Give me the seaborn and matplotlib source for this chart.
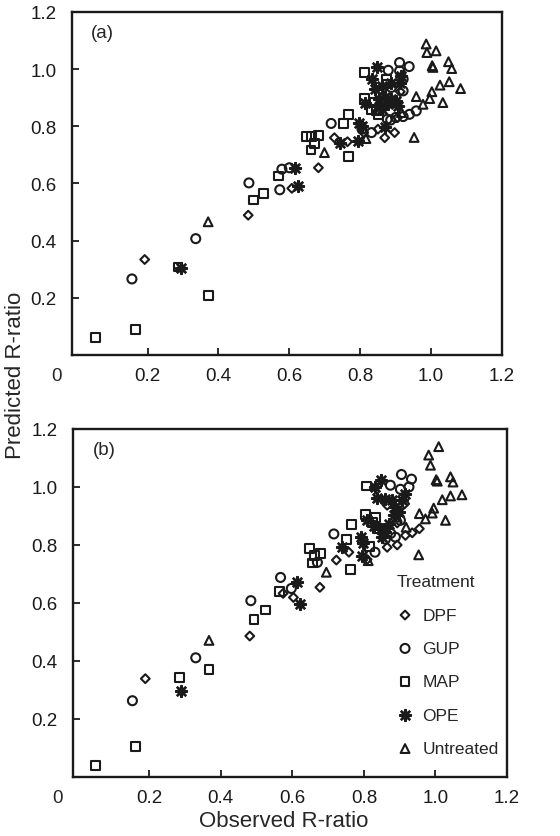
import numpy as np
import pandas as pd
import matplotlib
matplotlib.use('Agg')
import matplotlib.pyplot as plt
import seaborn as sns

# Treatments and axis ticks
treatments = ['DPF', 'GUP', 'MAP', 'OPE', 'Untreated']
tick_values = [0.2, 0.4, 0.6, 0.8, 1.0, 1.2]
tick_labels = ['0.2', '0.4', '0.6', '0.8', '1.0', '1.2']

# ── Panel (a): observed vs predicted R-ratio
a_dpf_obs  = [0.192, 0.484, 0.607, 0.682, 0.727, 0.764, 0.810, 0.869, 0.897, 0.913, 0.850, 0.905]
a_dpf_pred = [0.334, 0.489, 0.583, 0.655, 0.760, 0.746, 0.778, 0.760, 0.778, 0.921, 0.790, 0.830]

a_gup_obs  = [0.156, 0.336, 0.486, 0.573, 0.579, 0.600, 0.718, 0.805, 0.832, 0.876, 0.886, 0.900,
              0.921, 0.939, 0.958, 0.879, 0.911, 0.938, 0.911, 0.921, 0.888, 0.921, 0.860]
a_gup_pred = [0.266, 0.407, 0.602, 0.578, 0.650, 0.655, 0.810, 0.790, 0.778, 0.825, 0.822, 0.831,
              0.834, 0.842, 0.854, 0.996, 1.023, 1.009, 0.994, 0.965, 0.936, 0.924, 0.930]

a_map_obs  = [0.053, 0.165, 0.286, 0.371, 0.500, 0.528, 0.570, 0.649, 0.663, 0.682, 0.672, 0.661,
              0.752, 0.768, 0.766, 0.811, 0.874, 0.811, 0.839, 0.832, 0.851, 0.845, 0.874]
a_map_pred = [0.060, 0.089, 0.308, 0.208, 0.542, 0.565, 0.626, 0.764, 0.764, 0.769, 0.741, 0.717,
              0.810, 0.840, 0.694, 0.988, 0.965, 0.897, 0.883, 0.860, 0.842, 0.855, 0.948]

a_ope_obs  = [0.294, 0.617, 0.624, 0.743, 0.794, 0.796, 0.805, 0.869, 0.846, 0.834, 0.841, 0.860,
              0.888, 0.916, 0.911, 0.813, 0.853, 0.869, 0.888, 0.902, 0.879, 0.856, 0.907, 0.860]
a_ope_pred = [0.305, 0.655, 0.591, 0.743, 0.749, 0.813, 0.800, 0.796, 1.006, 0.965, 0.930, 0.942,
              0.953, 0.977, 0.953, 0.883, 0.895, 0.901, 0.895, 0.889, 0.877, 0.866, 0.872, 0.860]

a_unt_obs  = [0.371, 0.699, 0.816, 0.916, 0.952, 0.986, 0.988, 1.014, 1.005, 1.003, 1.049, 1.058,
              1.083, 1.051, 1.025, 1.002, 0.996, 0.977, 0.958, 1.033]
a_unt_pred = [0.466, 0.708, 0.757, 0.848, 0.761, 1.088, 1.058, 1.064, 1.006, 1.012, 1.026, 1.002,
              0.932, 0.956, 0.944, 0.921, 0.897, 0.877, 0.904, 0.883]

# ── Panel (b)
b_dpf_obs  = [0.189, 0.481, 0.574, 0.603, 0.677, 0.723, 0.758, 0.809, 0.865, 0.893, 0.916, 0.935,
              0.955, 0.865, 0.914, 0.893]
b_dpf_pred = [0.339, 0.486, 0.633, 0.619, 0.654, 0.748, 0.775, 0.750, 0.792, 0.800, 0.833, 0.842,
              0.856, 0.937, 0.942, 0.876]

b_gup_obs  = [0.153, 0.330, 0.484, 0.567, 0.597, 0.670, 0.716, 0.831, 0.905, 0.933, 0.902, 0.926,
              0.874, 0.888, 0.902, 0.860, 0.875]
b_gup_pred = [0.263, 0.411, 0.608, 0.688, 0.650, 0.740, 0.838, 0.775, 1.043, 1.027, 0.992, 1.000,
              1.006, 0.827, 0.885, 0.820, 0.840]

b_map_obs  = [0.049, 0.161, 0.284, 0.367, 0.493, 0.524, 0.563, 0.648, 0.663, 0.679, 0.656, 0.763,
              0.751, 0.765, 0.807, 0.805, 0.833, 0.837, 0.816, 0.823]
b_map_pred = [0.040, 0.105, 0.344, 0.371, 0.544, 0.576, 0.640, 0.789, 0.763, 0.771, 0.738, 0.715,
              0.819, 0.870, 1.003, 0.904, 0.896, 0.856, 0.796, 0.878]

b_ope_obs  = [0.288, 0.612, 0.622, 0.740, 0.791, 0.798, 0.795, 0.831, 0.849, 0.837, 0.860, 0.879,
              0.888, 0.898, 0.884, 0.907, 0.916, 0.809, 0.828, 0.847, 0.860, 0.851, 0.870]
b_ope_pred = [0.296, 0.671, 0.598, 0.792, 0.827, 0.807, 0.763, 1.000, 1.023, 0.962, 0.960, 0.954,
              0.931, 0.913, 0.902, 0.954, 0.977, 0.885, 0.867, 0.856, 0.844, 0.827, 0.873]

b_unt_obs  = [0.367, 0.695, 0.812, 0.953, 1.009, 0.981, 0.986, 1.002, 1.005, 1.042, 1.049, 1.074,
              1.042, 1.019, 0.995, 0.991, 0.972, 0.955, 1.028, 0.918, 0.893]
b_unt_pred = [0.471, 0.706, 0.746, 0.766, 1.139, 1.110, 1.075, 1.025, 1.020, 1.035, 1.017, 0.973,
              0.969, 0.956, 0.927, 0.910, 0.890, 0.908, 0.885, 0.861, 0.896]


def build(groups):
    frames = []
    for name, (obs, pred) in zip(treatments, groups):
        frames.append(pd.DataFrame({'Observed': obs, 'Predicted': pred, 'Treatment': name}))
    return pd.concat(frames, ignore_index=True)


df_a = build([(a_dpf_obs, a_dpf_pred), (a_gup_obs, a_gup_pred), (a_map_obs, a_map_pred),
              (a_ope_obs, a_ope_pred), (a_unt_obs, a_unt_pred)])
df_b = build([(b_dpf_obs, b_dpf_pred), (b_gup_obs, b_gup_pred), (b_map_obs, b_map_pred),
              (b_ope_obs, b_ope_pred), (b_unt_obs, b_unt_pred)])

# Marker styles per treatment
styles = {
    'DPF':       dict(marker='D', s=20, facecolor='none', edgecolor='k', linewidth=1.5),
    'GUP':       dict(marker='o', s=42, facecolor='none', edgecolor='k', linewidth=1.5),
    'MAP':       dict(marker='s', s=40, facecolor='none', edgecolor='k', linewidth=1.5),
    'OPE':       dict(marker=(8, 2, 0), s=60, color='k', linewidth=1.8),
    'Untreated': dict(marker='^', s=40, facecolor='none', edgecolor='k', linewidth=1.5),
}

sns.set_theme(style='ticks')
plt.rcParams['font.family'] = ['Liberation Sans', 'DejaVu Sans']

fig = plt.figure(figsize=(5.6, 8.37), dpi=100)
ax1 = fig.add_axes([0.1286, 0.5747, 0.7679, 0.4098])
ax2 = fig.add_axes([0.1304, 0.0705, 0.7750, 0.4158])

for ax, df, tag in [(ax1, df_a, '(a)'), (ax2, df_b, '(b)')]:
    for t in treatments:
        sns.scatterplot(data=df[df['Treatment'] == t], x='Observed', y='Predicted',
                        ax=ax, label=t, legend=False, zorder=3, **styles[t])
    ax.set_xlim(-0.013, 1.193)
    ax.set_ylim(0, 1.2)
    ax.set_xticks(tick_values)
    ax.set_xticklabels(tick_labels)
    ax.set_yticks(tick_values)
    ax.set_yticklabels(tick_labels)
    ax.set(xlabel='', ylabel='')
    ax.tick_params(axis='both', direction='in', length=5, width=1.3, labelsize=13.5, colors='k')
    ax.tick_params(axis='x', pad=9)
    ax.tick_params(axis='y', pad=11)
    for sp in ax.spines.values():
        sp.set_linewidth(1.7)
        sp.set_color('k')
    ax.text(0.045, 0.94, tag, transform=ax.transAxes, fontsize=13.5, va='center', ha='left')
    ax.annotate('0', xy=(0, 0), xycoords='axes fraction', xytext=(-11, -9),
                textcoords='offset points', ha='center', va='top', fontsize=13.5)

leg = ax2.legend(title='Treatment', loc='lower left', bbox_to_anchor=(0.725, 0.035),
                 frameon=False, alignment='left', fontsize=12.5, title_fontsize=12.5,
                 handletextpad=0.5, labelspacing=1.05, handlelength=1.0, borderpad=0,
                 scatterpoints=1)

fig.text(0.027, 0.552, 'Predicted R-ratio', rotation=90, ha='center', va='center', fontsize=16)
fig.text(0.506, 0.018, 'Observed R-ratio', ha='center', va='center', fontsize=16)

plt.savefig('out.png', dpi=100)
